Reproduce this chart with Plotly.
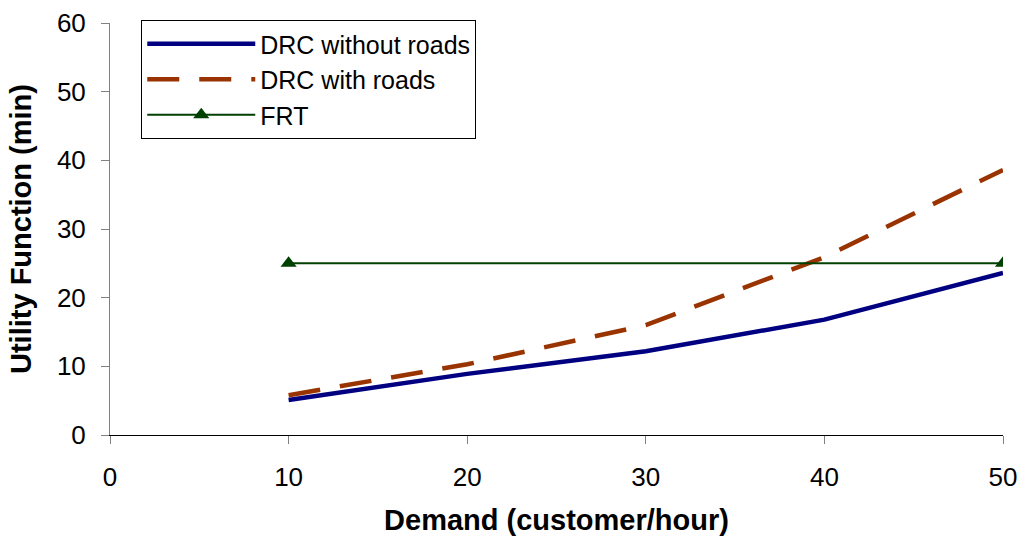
import plotly.graph_objects as go

demand = [10, 20, 30, 40, 50]
drc_without = [5.1, 8.9, 12.2, 16.8, 23.6]
drc_with = [5.8, 10.3, 16.0, 25.9, 38.6]
frt_x = [10, 50]
frt_y = [25, 25]

x_ticks = [0, 10, 20, 30, 40, 50]
y_ticks = [0, 10, 20, 30, 40, 50, 60]

fig = go.Figure()
fig.add_trace(go.Scatter(x=demand, y=drc_without, mode="lines", name="DRC without roads",
                         line=dict(color="#000080", width=4.5)))
fig.add_trace(go.Scatter(x=demand, y=drc_with, mode="lines", name="DRC with roads",
                         line=dict(color="#993300", width=4.5, dash="32px,20px")))
fig.add_trace(go.Scatter(x=frt_x, y=frt_y, mode="lines+markers", name="FRT",
                         line=dict(color="#004000", width=2),
                         marker=dict(symbol="triangle-up", size=14, color="#004000")))

font = "Liberation Sans, Arial, sans-serif"
fig.update_layout(
    width=1023, height=537,
    margin=dict(l=110, r=20, t=23, b=102, autoexpand=False),
    paper_bgcolor="white", plot_bgcolor="white",
    font=dict(family=font, size=26, color="black"),
    showlegend=True,
    legend=dict(x=0.035, y=1.007, xanchor="left", yanchor="top",
                bordercolor="black", borderwidth=1, bgcolor="white",
                font=dict(size=25), tracegroupgap=0, itemwidth=108,
                entrywidth=375, entrywidthmode="pixels"),
    xaxis=dict(range=[0, 50], tickvals=x_ticks, ticks="outside", ticklen=8,
               tickcolor="#808080", showline=True, linecolor="black", linewidth=1,
               showgrid=False, zeroline=False, ticklabelstandoff=11,
               title=dict(text="<b>Demand (customer/hour)</b>", font=dict(size=29), standoff=18)),
    yaxis=dict(range=[0, 60], tickvals=y_ticks, ticks="outside", ticklen=8,
               tickcolor="#808080", showline=True, linecolor="#808080", linewidth=1,
               showgrid=False, zeroline=False, ticklabelstandoff=10,
               title=dict(text="<b>Utility Function (min)</b>", font=dict(size=29), standoff=16)),
)
fig.write_html("out.html", config={"displayModeBar": False},
               post_script="document.body.style.margin='0';")
